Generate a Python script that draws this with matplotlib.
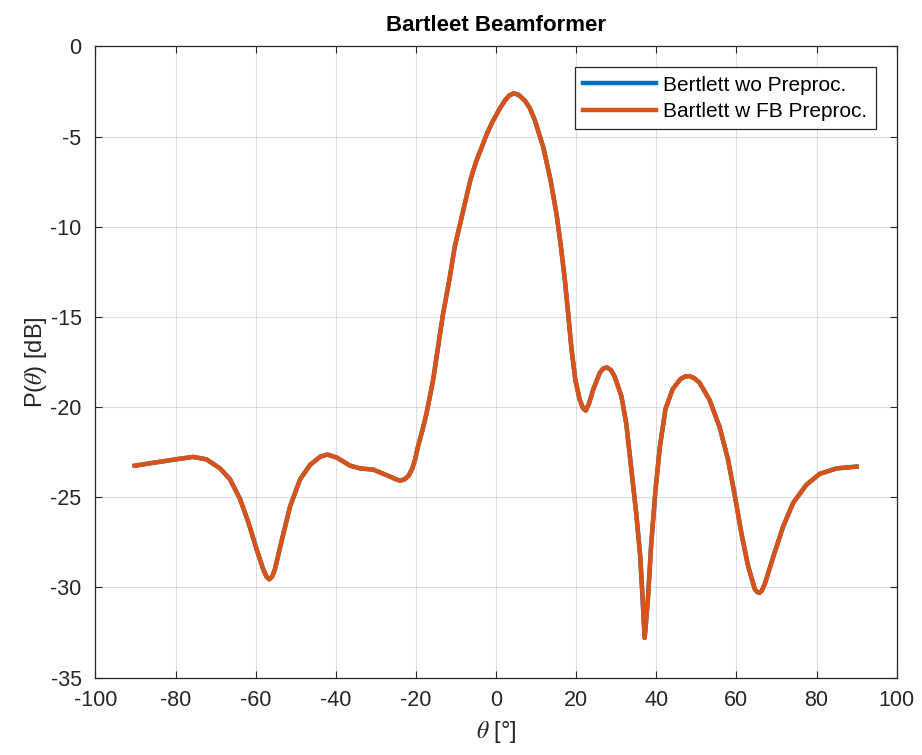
import matplotlib
matplotlib.use("Agg")
import matplotlib.pyplot as plt

# beam pattern (deg, dB)
theta = [-90.2, -84.75, -80, -75.6, -72.25, -68.9, -66.4, -63.9, -61.8, -59.75, -58.1, -57.3,
         -56.6, -55.9, -55.2, -53.5, -51.4, -48.9, -46.4, -43.9, -42.1, -39.75, -36.4, -33.9,
         -30.6, -28.1, -26.0, -24.8, -23.9, -22.8, -21.8, -20.9, -20.2, -19.5, -18.4, -17.4,
         -15.7, -14.5, -13.2, -11.7, -10.3, -8.4, -6.4, -5.0, -3.6, -2.2, -0.7, 0.8, 2.2, 3.3,
         4.4, 5.6, 7.2, 8.5, 9.7, 11.8, 13.6, 15.1, 16.2, 17.2, 18.0, 18.8, 19.8, 20.9, 21.7,
         22.4, 23.2, 24.3, 25.9, 26.8, 27.7, 28.7, 29.6, 31.3, 32.5, 33.7, 35.0, 36.0, 36.6,
         37.1, 37.9, 38.7, 39.8, 40.9, 42.3, 44.1, 46.0, 47.2, 48.3, 49.5, 50.8, 53.3, 55.8,
         57.9, 59.6, 61.25, 62.9, 64.6, 65.2, 65.7, 66.3, 67.1, 69.2, 71.7, 74.2, 77.5, 80.8,
         85.0, 90]
p_wo = [-23.25, -23.06, -22.9, -22.76, -22.9, -23.4, -24.0, -25.1, -26.4, -27.9, -29.0, -29.4,
        -29.55, -29.4, -29.0, -27.4, -25.5, -24.0, -23.2, -22.75, -22.63, -22.8, -23.25, -23.4,
        -23.47, -23.7, -23.9, -24.02, -24.08, -24.0, -23.8, -23.4, -22.9, -22.2, -21.3, -20.4,
        -18.5, -16.7, -14.8, -13.0, -11.1, -9.3, -7.4, -6.4, -5.6, -4.8, -4.1, -3.5, -3.0, -2.72,
        -2.6, -2.68, -3.0, -3.45, -4.1, -5.6, -7.4, -9.3, -11.1, -13.0, -14.8, -16.7, -18.5, -19.6,
        -20.05, -20.2, -19.8, -19.0, -18.1, -17.85, -17.8, -17.95, -18.3, -19.4, -20.9, -23.3,
        -25.9, -28.3, -30.7, -32.8, -30.7, -27.7, -24.6, -22.2, -20.1, -19.0, -18.45, -18.3,
        -18.28, -18.4, -18.65, -19.6, -21.1, -22.9, -24.9, -27.0, -28.8, -30.1, -30.25, -30.3,
        -30.2, -29.8, -28.3, -26.6, -25.3, -24.3, -23.7, -23.4, -23.3]
p_fb = list(p_wo)

labels = ['Bertlett wo Preproc.', 'Bartlett w FB Preproc.']

plt.rcParams['font.family'] = ['Liberation Sans', 'DejaVu Sans']
plt.rcParams['mathtext.fontset'] = 'stix'
plt.rcParams['axes.unicode_minus'] = False

fig = plt.figure(figsize=(9.22, 7.55), dpi=100)
ax = fig.add_axes([0.1035, 0.1025, 0.869, 0.836])

dark = (0.15, 0.15, 0.15)
ax.plot(theta, p_wo, color=(0, 0.447, 0.741), linewidth=3.2, label=labels[0],
        solid_joinstyle='round')
ax.plot(theta, p_fb, color=(0.85, 0.325, 0.098), linewidth=3.2, label=labels[1],
        solid_joinstyle='round')

ax.set_xlim(-100, 100)
ax.set_ylim(-35, 0)
ax.set_xticks(range(-100, 101, 20))
ax.set_yticks(range(-35, 1, 5))
ax.grid(True, color=dark, alpha=0.15, linewidth=0.8)
ax.tick_params(direction='in', top=True, right=True, labelsize=15.5,
               colors=dark, length=5)
ax.tick_params(axis='x', pad=9)
ax.tick_params(axis='y', pad=10)
for s in ax.spines.values():
    s.set_color(dark)
    s.set_linewidth(0.9)

ax.set_title('Bartleet Beamformer', fontsize=16, fontweight='bold', pad=11)
ax.set_xlabel(r'$\theta$ [°]', fontsize=17, color=dark, labelpad=6)
ax.set_ylabel(r'P($\theta$) [dB]', fontsize=17, color=dark, labelpad=1)

leg = ax.legend(loc='upper right', fontsize=15, fancybox=False, framealpha=1,
                edgecolor=dark, handlelength=3.5, borderaxespad=1.0,
                borderpad=0.4, labelspacing=0.35, handletextpad=0.35)
leg.get_frame().set_linewidth(0.9)

fig.savefig('out.png', dpi=100)
